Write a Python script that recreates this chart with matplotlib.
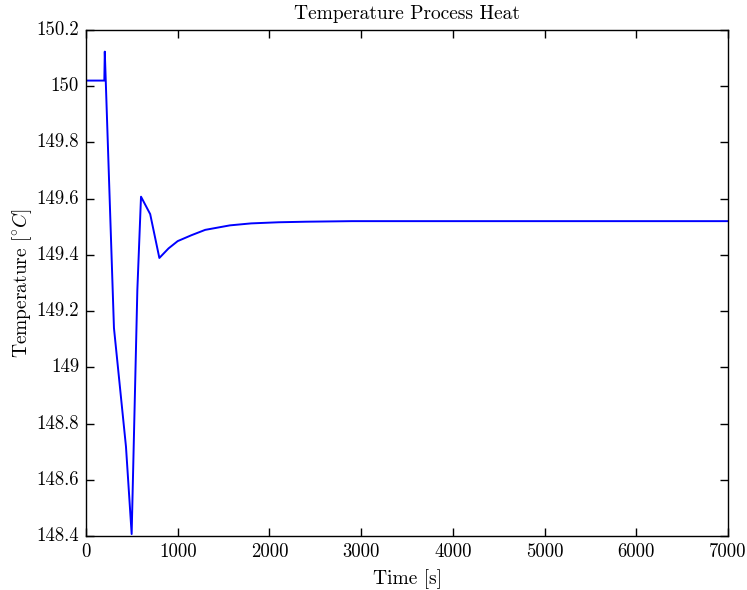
import matplotlib
matplotlib.use("Agg")
import matplotlib.pyplot as plt
from matplotlib.ticker import FuncFormatter, MultipleLocator

plt.style.use("classic")
plt.rcParams["font.family"] = "serif"
plt.rcParams["font.serif"] = ["cmr10"]
plt.rcParams["mathtext.fontset"] = "cm"
plt.rcParams["axes.unicode_minus"] = False

# Process heat outlet temperature over time
time_s = [0, 200, 205, 305, 436, 498, 560, 600, 700, 800, 900, 1000,
          1150, 1300, 1570, 1800, 2100, 2400, 2900, 7000]
temp_c = [150.02, 150.02, 150.123, 149.14, 148.718, 148.407, 149.275,
          149.607, 149.545, 149.389, 149.423, 149.449, 149.470, 149.489,
          149.505, 149.512, 149.516, 149.518, 149.52, 149.52]

fig = plt.figure(figsize=(7.47, 5.90), dpi=100, facecolor="white")
ax = fig.add_axes([0.1151, 0.0915, 0.8595, 0.8577])
ax.plot(time_s, temp_c, color="#0000ff", linewidth=1.4)

ax.set_xlim(0, 7000)
ax.set_ylim(148.4, 150.2)
ax.xaxis.set_major_locator(MultipleLocator(1000))
ax.yaxis.set_major_locator(MultipleLocator(0.2))
ax.yaxis.set_major_formatter(FuncFormatter(lambda v, p: f"{round(v, 1):g}"))
ax.xaxis.set_major_formatter(FuncFormatter(lambda v, p: f"{v:g}"))
ax.tick_params(which="major", direction="in", length=6, width=1,
               labelsize=13.5, top=True, right=True, pad=5)
ax.tick_params(which="minor", length=0)

ax.set_title("Temperature Process Heat", fontsize=14, pad=8)
ax.set_xlabel("Time [s]", fontsize=14, labelpad=6)
ax.set_ylabel(r"Temperature [$^{\circ}C$]", fontsize=14, labelpad=2)

fig.savefig("out.png", dpi=100, facecolor="white")
